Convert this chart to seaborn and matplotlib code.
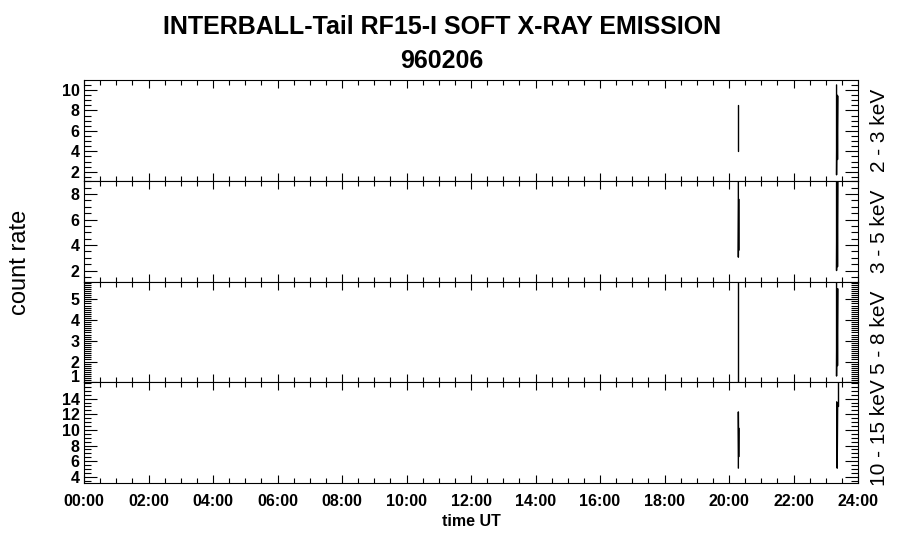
import numpy as np
import pandas as pd
import matplotlib
matplotlib.use("Agg")
import matplotlib.pyplot as plt
import matplotlib.transforms as mtransforms
import seaborn as sns
from matplotlib.ticker import MultipleLocator, FixedLocator

sns.set_theme(style="ticks")
plt.rcParams["font.family"] = ["Liberation Sans", "DejaVu Sans"]

# ---------------- data ----------------
title_line1 = "INTERBALL-Tail RF15-I SOFT X-RAY EMISSION"
title_line2 = "960206"
x_label = "time UT"
y_label = "count rate"

hour_ticks = list(range(0, 25, 2))
hour_labels = [f"{h:02d}:00" for h in hour_ticks]

band_labels = ["2 - 3 keV", "3 - 5 keV", "5 - 8 keV", "10 - 15 keV"]
y_limits = [(1.12, 10.98), (1.14, 9.04), (1.0, 5.86), (3.2, 16.1)]
y_major = [[2, 4, 6, 8, 10], [2, 4, 6, 8], [1, 2, 3, 4, 5], [4, 6, 8, 10, 12, 14]]
y_minor_step = [0.5, 0.5, 0.1, 0.5]

# time (hours UT), count rate, segment id for each energy band
t_b1 = [20.29, 20.29, 23.335, 23.335, 23.35, 23.365, 23.38]
v_b1 = [4.0, 8.5, 10.5, 1.7, 9.5, 3.2, 9.4]
s_b1 = [0, 0, 1, 1, 1, 1, 1]

t_b2 = [20.29, 20.29, 20.30, 20.31, 23.335, 23.335, 23.35, 23.365, 23.38]
v_b2 = [9.5, 3.05, 7.6, 3.6, 9.5, 2.0, 9.5, 2.3, 9.5]
s_b2 = [0, 0, 0, 0, 1, 1, 1, 1, 1]

t_b3 = [20.29, 20.29, 23.335, 23.335, 23.35, 23.365, 23.38]
v_b3 = [0.5, 6.5, 6.5, 1.3, 5.5, 1.8, 5.5]
s_b3 = [0, 0, 1, 1, 1, 1, 1]

t_b4 = [20.29, 20.29, 20.30, 20.31, 23.39, 23.39, 23.34, 23.355, 23.37]
v_b4 = [5.1, 12.3, 6.55, 10.2, 17.0, 13.0, 13.6, 5.1, 13.5]
s_b4 = [0, 0, 0, 0, 1, 1, 2, 2, 2]

bands = [(t_b1, v_b1, s_b1), (t_b2, v_b2, s_b2), (t_b3, v_b3, s_b3), (t_b4, v_b4, s_b4)]

# ---------------- figure ----------------
fig, axes = plt.subplots(4, 1, figsize=(9.0, 5.48), dpi=100, sharex=True)
fig.subplots_adjust(left=84 / 900, right=858 / 900, top=1 - 80 / 548,
                    bottom=1 - 483 / 548, hspace=0)
fig.patch.set_facecolor("white")

tick_font = dict(family=["Liberation Sans", "DejaVu Sans"], weight="bold", size=11.5)

for i, (ax, (t, v, s)) in enumerate(zip(axes, bands)):
    df = pd.DataFrame({"t": t, "rate": v, "seg": s})
    sns.lineplot(data=df, x="t", y="rate", units="seg", estimator=None, sort=False,
                 color="black", linewidth=1.0, ax=ax, legend=False)
    ax.set_facecolor("white")
    ax.set_xlim(0, 24)
    ax.set_ylim(*y_limits[i])
    ax.set_xlabel("")
    ax.set_ylabel("")
    for sp in ax.spines.values():
        sp.set_visible(True)
        sp.set_color("black")
        sp.set_linewidth(0.8)
    ax.xaxis.set_major_locator(FixedLocator(hour_ticks))
    ax.xaxis.set_minor_locator(MultipleLocator(0.5))
    ax.yaxis.set_major_locator(FixedLocator(y_major[i]))
    ax.yaxis.set_minor_locator(MultipleLocator(y_minor_step[i]))
    ax.tick_params(axis="x", which="both", direction="in", top=True, bottom=True,
                   color="black", width=0.8)
    ax.tick_params(axis="x", which="major", length=6, pad=8)
    ax.tick_params(axis="x", which="minor", length=3.5)
    ax.tick_params(axis="y", which="both", direction="in", left=True, right=True,
                   color="black", width=0.8, pad=3)
    ax.tick_params(axis="y", which="major", length=9.5)
    ax.tick_params(axis="y", which="minor", length=5)
    ax.set_yticks(y_major[i])
    ax.set_yticklabels([str(y) for y in y_major[i]], fontdict=tick_font, color="black")
    if i == 2:
        lab = ax.get_yticklabels()[0]
        lab.set_transform(lab.get_transform() +
                          mtransforms.ScaledTranslation(0, 4.5 / 72, fig.dpi_scale_trans))
    ax.text(1.028, 0.5, band_labels[i], rotation=90, transform=ax.transAxes,
            ha="center", va="center", fontsize=15, color="black")
    if i < 3:
        ax.tick_params(axis="x", labelbottom=False)

axes[-1].set_xticks(hour_ticks)
axes[-1].set_xticklabels(hour_labels, fontdict=tick_font, color="black")

fig.text(442 / 900, 1 - 27 / 548, title_line1, ha="center", va="center",
         fontsize=18, weight="bold", color="black")
fig.text(442 / 900, 1 - 61 / 548, title_line2, ha="center", va="center",
         fontsize=18, weight="bold", color="black")
fig.text(471 / 900, 1 - 522 / 548, x_label, ha="center", va="center",
         fontsize=11.5, weight="bold", color="black")
fig.text(20 / 900, 1 - 262 / 548, y_label, ha="center", va="center", rotation=90,
         fontsize=17, color="black")

fig.savefig("out.png", dpi=100, facecolor="white")
